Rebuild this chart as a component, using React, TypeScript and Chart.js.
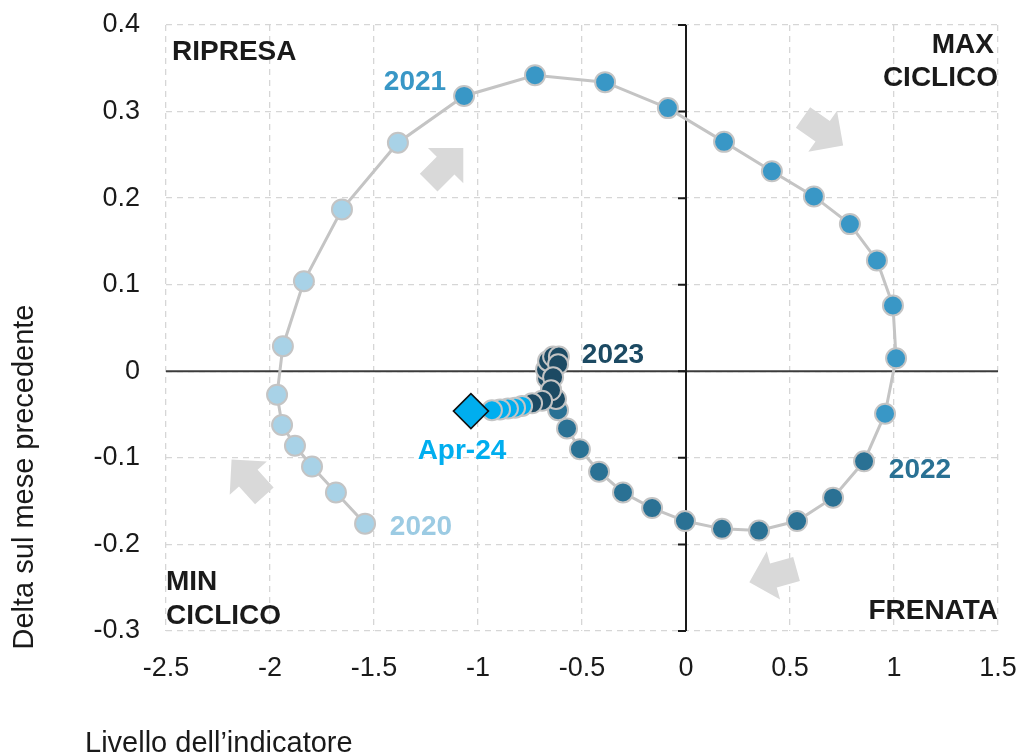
import React, { useEffect, useRef } from 'react';
import { Chart, registerables } from 'chart.js';

Chart.register(...registerables);

const FONT = '"Liberation Sans", Arial, Helvetica, sans-serif';

// Tick values
const xTickValues = [-2.5, -2, -1.5, -1, -0.5, 0, 0.5, 1, 1.5];
const yTickValues = [-0.3, -0.2, -0.1, 0, 0.1, 0.2, 0.3, 0.4];

// Series (x = livello dell'indicatore, y = delta sul mese precedente)
const x2020 = [-1.543, -1.683, -1.798, -1.88, -1.942, -1.966, -1.938, -1.837, -1.654, -1.385];
const y2020 = [-0.176, -0.14, -0.11, -0.086, -0.062, -0.027, 0.029, 0.104, 0.187, 0.264];

const x2021 = [-1.067, -0.726, -0.389, -0.087, 0.183, 0.413, 0.615, 0.788, 0.918, 0.995, 1.01, 0.957];
const y2021 = [0.318, 0.342, 0.334, 0.304, 0.265, 0.231, 0.202, 0.17, 0.128, 0.076, 0.015, -0.049];

const x2022 = [0.856, 0.707, 0.534, 0.351, 0.173, -0.005, -0.163, -0.303, -0.418, -0.51, -0.572, -0.615];
const y2022 = [-0.104, -0.146, -0.173, -0.184, -0.182, -0.173, -0.158, -0.14, -0.116, -0.09, -0.066, -0.045];

const x2023 = [-0.625, -0.649, -0.668, -0.673, -0.663, -0.639, -0.611, -0.615, -0.639, -0.649, -0.692, -0.74];
const y2023 = [-0.032, -0.021, -0.008, 0.002, 0.012, 0.017, 0.017, 0.008, -0.007, -0.022, -0.034, -0.037];

const x2024 = [-0.788, -0.822, -0.856, -0.894, -0.933, -1.034];
const y2024 = [-0.04, -0.042, -0.043, -0.044, -0.045, -0.046];

const seriesColors = ['#a8d2e7', '#3997c6', '#2a7194', '#1c4a63', '#00aeef'];
const labelColors = ['#9ccbe3', '#3997c6', '#2a7194', '#1c4a63', '#00aeef'];

// Annotation labels
const yearLabels = ['2020', '2021', '2022', '2023', 'Apr-24'];
const yearLabelX = [-1.274, -1.303, 1.125, -0.351, -1.077];
const yearLabelY = [-0.18, 0.334, -0.114, 0.018, -0.092];

// Direction arrows (centre in data units, angle in degrees)
const arrowX = [-1.154, 0.659, 0.418, -2.106];
const arrowY = [0.238, 0.277, -0.236, -0.123];
const arrowAngle = [-45, 35, 164.5, -132];

const fmt = (v: number) => String(Math.round(v * 10) / 10);

function drawArrow(ctx: CanvasRenderingContext2D, cx: number, cy: number, angleDeg: number) {
  const L = 49, hl = 25, hw = 50, sw = 25;
  ctx.save();
  ctx.translate(cx, cy);
  ctx.rotate((angleDeg * Math.PI) / 180);
  ctx.beginPath();
  ctx.moveTo(-L / 2, -sw / 2);
  ctx.lineTo(L / 2 - hl, -sw / 2);
  ctx.lineTo(L / 2 - hl, -hw / 2);
  ctx.lineTo(L / 2, 0);
  ctx.lineTo(L / 2 - hl, hw / 2);
  ctx.lineTo(L / 2 - hl, sw / 2);
  ctx.lineTo(-L / 2, sw / 2);
  ctx.closePath();
  ctx.fill();
  ctx.restore();
}

const decorPlugin = {
  id: 'decor',
  beforeDatasetsDraw(chart: any) {
    const { ctx, chartArea: ca, scales } = chart;
    const xs = scales.x, ys = scales.y;
    ctx.save();
    ctx.fillStyle = '#d9d9d9';
    arrowX.forEach((ax, i) => {
      drawArrow(ctx, xs.getPixelForValue(ax), ys.getPixelForValue(arrowY[i]), arrowAngle[i]);
    });
    const x0 = xs.getPixelForValue(0);
    const y0 = ys.getPixelForValue(0);
    ctx.lineWidth = 2;
    ctx.strokeStyle = '#3c3c3c';
    ctx.beginPath();
    ctx.moveTo(ca.left, y0);
    ctx.lineTo(ca.right, y0);
    ctx.stroke();
    ctx.strokeStyle = '#1a1a1a';
    ctx.beginPath();
    ctx.moveTo(x0, ca.top);
    ctx.lineTo(x0, ca.bottom);
    yTickValues.forEach((v) => {
      const py = ys.getPixelForValue(v);
      ctx.moveTo(x0 - 8, py);
      ctx.lineTo(x0, py);
    });
    ctx.stroke();
    ctx.restore();
  },
  afterDatasetsDraw(chart: any) {
    const { ctx, chartArea: ca, scales } = chart;
    const xs = scales.x, ys = scales.y;
    ctx.save();
    ctx.textBaseline = 'middle';
    ctx.font = `bold 28px ${FONT}`;
    ctx.textAlign = 'center';
    yearLabels.forEach((t, i) => {
      ctx.fillStyle = labelColors[i];
      ctx.fillText(t, xs.getPixelForValue(yearLabelX[i]), ys.getPixelForValue(yearLabelY[i]));
    });
    ctx.fillStyle = '#1a1a1a';
    ctx.textAlign = 'left';
    ctx.fillText('RIPRESA', ca.left + 6, ca.top + 27);
    ctx.fillText('MIN', ca.left, ca.bottom - 49);
    ctx.fillText('CICLICO', ca.left, ca.bottom - 15);
    ctx.textAlign = 'right';
    ctx.fillText('MAX', ca.right - 4, ca.top + 20);
    ctx.fillText('CICLICO', ca.right, ca.top + 53);
    ctx.fillText('FRENATA', ca.right, ca.bottom - 20);

    ctx.font = `29px ${FONT}`;
    ctx.fillStyle = '#1a1a1a';
    ctx.textAlign = 'left';
    ctx.fillText('Livello dell\u2019indicatore', 85, 744);
    ctx.save();
    ctx.translate(25, 477);
    ctx.rotate(-Math.PI / 2);
    ctx.textAlign = 'center';
    ctx.fillText('Delta sul mese precedente', 0, 0);
    ctx.restore();
    ctx.restore();
  },
};

export default function App() {
  const ref = useRef<HTMLCanvasElement>(null);
  useEffect(() => {
    const canvas = ref.current;
    if (!canvas) return;
    const groupsX = [x2020, x2021, x2022, x2023, x2024];
    const groupsY = [y2020, y2021, y2022, y2023, y2024];
    const data: { x: number; y: number }[] = [];
    const bg: string[] = [];
    const border: string[] = [];
    const bw: number[] = [];
    const radius: number[] = [];
    const style: string[] = [];
    groupsX.forEach((gx, g) => {
      gx.forEach((xv, i) => {
        data.push({ x: xv, y: groupsY[g][i] });
        const isLast = g === groupsX.length - 1 && i === gx.length - 1;
        bg.push(seriesColors[g]);
        border.push(isLast ? '#111111' : '#c4c4c4');
        bw.push(isLast ? 1.6 : 2);
        radius.push(isLast ? 17.5 : 10);
        style.push(isLast ? 'rectRot' : 'circle');
      });
    });

    const tickFont = { family: FONT, size: 27 };
    const chart = new Chart(canvas, {
      type: 'scatter',
      data: {
        datasets: [
          {
            data,
            showLine: true,
            borderColor: '#c4c4c4',
            borderWidth: 3,
            pointBackgroundColor: bg,
            pointBorderColor: border,
            pointBorderWidth: bw,
            pointRadius: radius,
            pointHoverRadius: radius,
            pointStyle: style as any,
            tension: 0,
          },
        ],
      },
      plugins: [decorPlugin],
      options: {
        responsive: false,
        animation: false,
        events: [],
        layout: { padding: { top: 25, right: 24, left: 0, bottom: 0 } },
        plugins: { legend: { display: false }, tooltip: { enabled: false } },
        scales: {
          x: {
            type: 'linear',
            min: -2.5,
            max: 1.5,
            afterBuildTicks: (s: any) => {
              s.ticks = xTickValues.map((v) => ({ value: v }));
            },
            afterFit: (s: any) => {
              s.height = 122;
              s.paddingLeft = 0;
              s.paddingRight = 0;
              s.paddingTop = 0;
              s.paddingBottom = 0;
            },
            ticks: {
              callback: (v: any) => fmt(Number(v)),
              font: tickFont,
              color: '#1a1a1a',
              padding: 21,
              maxRotation: 0,
              autoSkip: false,
            },
            grid: { color: '#d6d6d6', lineWidth: 1.3, drawTicks: false },
            border: { display: false, dash: [6, 5] },
          },
          y: {
            type: 'linear',
            min: -0.3,
            max: 0.4,
            afterBuildTicks: (s: any) => {
              s.ticks = yTickValues.map((v) => ({ value: v }));
            },
            afterFit: (s: any) => {
              s.width = 166;
              s.paddingLeft = 0;
              s.paddingRight = 0;
              s.paddingTop = 0;
              s.paddingBottom = 0;
            },
            ticks: {
              callback: (v: any) => fmt(Number(v)),
              font: tickFont,
              color: '#1a1a1a',
              padding: 26,
              autoSkip: false,
            },
            grid: { color: '#d6d6d6', lineWidth: 1.3, drawTicks: false },
            border: { display: false, dash: [6, 5] },
          },
        },
      },
    } as any);
    return () => chart.destroy();
  }, []);

  return (
    <div style={{ position: 'absolute', left: 0, top: 0, width: 1022, height: 753, background: '#ffffff' }}>
      <canvas ref={ref} width={1022} height={753} style={{ display: 'block', width: 1022, height: 753 }} />
    </div>
  );
}
